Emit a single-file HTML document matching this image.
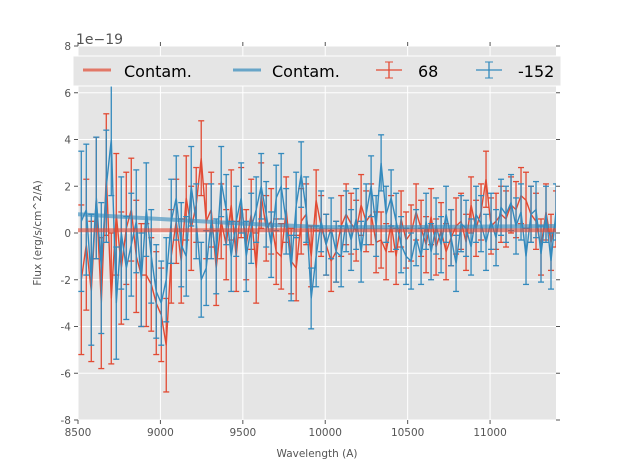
<!DOCTYPE html>
<html><head><meta charset="utf-8"><style>
body{margin:0;background:#fff;width:617px;height:467px;overflow:hidden;font-family:"DejaVu Sans","Liberation Sans",sans-serif}
</style></head><body>
<svg id="chart" width="617" height="467" xmlns="http://www.w3.org/2000/svg" font-family="DejaVu Sans, Liberation Sans, sans-serif"></svg>
<script>
const redVals=[-2.0,-0.5,-2.5,1.5,-3.0,2.5,-2.8,0.8,-1.5,0.2,1.0,-1.0,-1.8,-1.8,-2.2,-3.0,-3.5,-4.8,-1.0,0.5,-1.2,1.5,0.2,1.2,3.2,0.5,1.0,-1.5,0.5,-0.5,1.2,-1.0,1.3,-0.5,0.8,-1.5,1.6,0.2,0.5,-0.8,-1.0,1.0,-1.2,-1.5,0.5,0.8,-1.0,1.4,0.3,-0.5,-1.2,-0.8,0.3,0.8,0.4,0.1,1.2,0.5,0.8,-0.4,-0.3,-0.8,0.4,-1.0,0.6,-0.3,0.0,0.9,0.2,-0.5,0.7,-0.6,0.1,-0.8,-0.2,0.3,0.5,-0.4,1.2,0.2,0.9,2.3,0.3,0.5,0.8,0.6,1.2,1.0,1.6,1.4,0.8,0.5,-0.6,0.9,-0.4,0.6];
const blueVals=[0.5,1.0,-2.0,1.5,-1.5,2.0,4.0,-3.0,0.0,-1.5,-0.5,0.5,-2.0,1.0,-1.0,-2.5,-3.0,-2.0,0.5,1.5,-0.5,-1.0,2.0,0.5,-2.0,-1.5,0.5,-1.0,2.2,1.0,-1.0,0.5,1.5,-1.0,0.2,1.0,2.0,0.8,-0.5,1.5,2.0,0.5,-1.5,1.2,2.5,1.0,-2.8,-1.0,0.5,-0.5,0.2,-0.8,-1.0,0.5,-0.3,0.6,-0.8,0.8,2.0,0.3,3.0,0.8,1.5,0.5,-0.5,-1.0,-1.2,-0.2,-1.0,0.5,-0.8,0.3,-0.5,0.8,-0.2,-1.3,0.4,0.2,-0.6,0.8,0.4,-0.4,0.5,-0.2,1.1,0.8,1.3,0.3,0.9,-1.0,0.8,1.0,-0.9,0.8,-1.2,0.9];
const redErr=[3.2,2.8,3.0,2.6,2.8,2.6,2.8,2.6,2.4,2.4,2.2,2.4,2.2,2.2,2.0,2.2,2.0,2.0,2.0,1.8,1.8,1.8,1.8,1.6,1.6,1.6,1.6,1.6,1.6,1.5,1.5,1.5,1.5,1.5,1.5,1.5,1.4,1.4,1.4,1.4,1.4,1.4,1.4,1.4,1.4,1.3,1.3,1.3,1.3,1.3,1.3,1.3,1.3,1.3,1.3,1.3,1.3,1.3,1.3,1.3,1.2,1.2,1.2,1.2,1.2,1.2,1.2,1.2,1.2,1.2,1.2,1.2,1.2,1.2,1.2,1.2,1.2,1.2,1.2,1.2,1.2,1.2,1.2,1.2,1.2,1.2,1.2,1.2,1.2,1.2,1.2,1.2,1.2,1.2,1.2,1.2];
const blueErr=[3.0,2.8,2.8,2.6,2.8,2.4,2.4,2.4,2.4,2.2,2.2,2.2,2.0,2.0,2.0,2.0,1.8,1.8,1.8,1.8,1.8,1.7,1.7,1.6,1.6,1.6,1.6,1.6,1.5,1.5,1.5,1.5,1.5,1.5,1.5,1.4,1.4,1.4,1.4,1.4,1.4,1.4,1.4,1.4,1.4,1.4,1.3,1.3,1.3,1.3,1.3,1.3,1.3,1.3,1.3,1.3,1.3,1.3,1.3,1.3,1.2,1.2,1.2,1.2,1.2,1.2,1.2,1.2,1.2,1.2,1.2,1.2,1.2,1.2,1.2,1.2,1.2,1.2,1.2,1.2,1.2,1.2,1.2,1.2,1.2,1.2,1.2,1.2,1.2,1.2,1.2,1.2,1.2,1.2,1.2,1.2];
const contamWave=[8500,9000,9500,10000,10500,11000,11400];
const contamRed=[0.12,0.12,0.12,0.12,0.12,0.12,0.12];
const contamBlue=[0.8,0.6,0.4,0.25,0.25,0.28,0.3];
const xTicks=[8500,9000,9500,10000,10500,11000];
const yTicks=[-8,-6,-4,-2,0,2,4,6,8];
const wStart=8520, wEnd=11400;

const svg=document.getElementById('chart');
const NS='http://www.w3.org/2000/svg';
const L=78,R=556,T=46,B=420;
const xs=w=>L+(w-8500)/(11400-8500)*(R-L);
const ys=v=>B-(v+8)/16*(B-T);
function mk(tag,attrs,parent){const e=document.createElementNS(NS,tag);for(const k in attrs)e.setAttribute(k,attrs[k]);(parent||svg).appendChild(e);return e;}

const defs=mk('defs',{});
const cp=mk('clipPath',{id:'plotclip'},defs);
mk('rect',{x:L,y:T,width:R-L,height:B-T},cp);

const bg=mk('rect',{x:L,y:T,width:R-L,height:B-T,fill:'#e5e5e5'});


const grid=mk('g',{stroke:'#fff','stroke-width':1});


xTicks.forEach(t=>{mk('line',{x1:xs(t),x2:xs(t),y1:T,y2:B},grid);});
yTicks.forEach(t=>{mk('line',{x1:L,x2:R,y1:ys(t),y2:ys(t)},grid);});
const ticks=mk('g',{stroke:'#555','stroke-width':1});


xTicks.forEach(t=>{mk('line',{x1:xs(t),x2:xs(t),y1:B,y2:B+4},ticks);mk('line',{x1:xs(t),x2:xs(t),y1:T,y2:T-4},ticks);});
yTicks.forEach(t=>{mk('line',{x1:L-4,x2:L,y1:ys(t),y2:ys(t)},ticks);mk('line',{x1:R,x2:R+4,y1:ys(t),y2:ys(t)},ticks);});
const xl=mk('g',{'font-size':10.5,fill:'#555','text-anchor':'middle'});


xTicks.forEach(t=>{const e=mk('text',{x:xs(t),y:B+16},xl);e.textContent=t;});
const yl=mk('g',{'font-size':10.5,fill:'#555','text-anchor':'end'});


yTicks.forEach(t=>{const e=mk('text',{x:L-7,y:ys(t)+4},yl);e.textContent=t;});

const plot=mk('g',{'clip-path':'url(#plotclip)'});


function series(vals,errs,color,name){
  const g=mk('g',{},plot);
  
  
  const n=vals.length, step=(wEnd-wStart)/(n-1);
  let d='';
  vals.forEach((v,i)=>{
    const x=xs(wStart+i*step), y=ys(v), e=errs[i];
    const y1=ys(v+e), y2=ys(v-e);
    mk('line',{x1:x,x2:x,y1:y1,y2:y2,stroke:color,'stroke-width':1.3},g);
    mk('line',{x1:x-3,x2:x+3,y1:y1,y2:y1,stroke:color,'stroke-width':1.3},g);
    mk('line',{x1:x-3,x2:x+3,y1:y2,y2:y2,stroke:color,'stroke-width':1.3},g);
    d+=(i?'L':'M')+x.toFixed(1)+','+y.toFixed(1);
  });
  mk('path',{d:d,fill:'none',stroke:color,'stroke-width':1.4},g);
}
function contam(vals,color,name){
  let d='';
  contamWave.forEach((w,i)=>{d+=(i?'L':'M')+xs(w)+','+ys(vals[i]);});
  const p=mk('path',{d:d,fill:'none',stroke:color,'stroke-width':4,opacity:0.6},plot);
  
  
}
series(redVals,redErr,'#E24A33','series-68');
series(blueVals,blueErr,'#348ABD','series-minus-152');
contam(contamRed,'#E24A33','contam-line-68');
contam(contamBlue,'#348ABD','contam-line-minus-152');

const lg=mk('g',{});


mk('rect',{x:73,y:56,width:488,height:30,fill:'#e5e5e5',stroke:'#fff','stroke-width':1},lg);
function ltext(x,t){const e=mk('text',{x:x,y:77,'font-size':16,fill:'#000'},lg);e.textContent=t;}
mk('line',{x1:83,x2:111,y1:70,y2:70,stroke:'#E24A33','stroke-width':3,opacity:0.7},lg);ltext(124,'Contam.');
mk('line',{x1:233,x2:261,y1:70,y2:70,stroke:'#348ABD','stroke-width':3,opacity:0.7},lg);ltext(272,'Contam.');
function ebIcon(x,c){mk('line',{x1:x,x2:x+26,y1:70,y2:70,stroke:c,'stroke-width':1.3},lg);mk('line',{x1:x+13,x2:x+13,y1:62,y2:78,stroke:c,'stroke-width':1.3},lg);mk('line',{x1:x+9,x2:x+17,y1:62,y2:62,stroke:c},lg);mk('line',{x1:x+9,x2:x+17,y1:78,y2:78,stroke:c},lg);}
ebIcon(376,'#E24A33');ltext(418,'68');
ebIcon(476,'#348ABD');ltext(518,'-152');

const off=mk('text',{x:76,y:44,'font-size':14,fill:'#555'});off.textContent='1e\u221219';


const xt=mk('text',{x:317,y:457,'font-size':10.5,fill:'#555','text-anchor':'middle'});xt.textContent='Wavelength (A)';


const yt=mk('text',{x:0,y:0,'font-size':10.5,fill:'#555','text-anchor':'middle',transform:'translate(41,233) rotate(-90)'});yt.textContent='Flux (erg/s/cm^2/A)';


</script>
</body></html>
